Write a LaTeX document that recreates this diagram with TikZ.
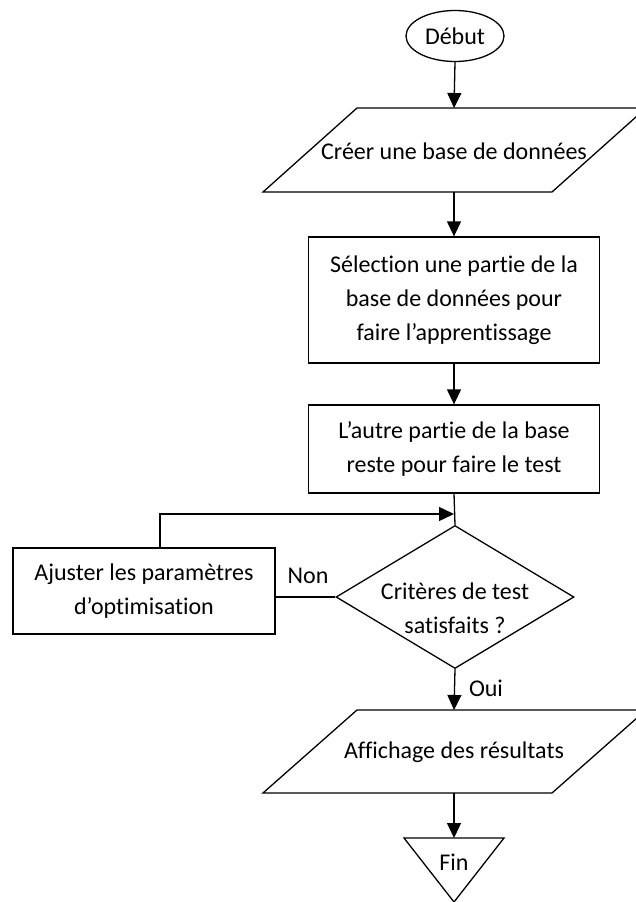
\documentclass[tikz,border=0pt]{standalone}
\usepackage{fontspec}
\setmainfont{Carlito}[Ligatures={NoCommon}]
\usetikzlibrary{shapes.geometric,arrows.meta}
\begin{document}
\begin{tikzpicture}[x=1pt,y=-1pt,
  line width=1.3pt,
  every node/.style={font=\fontsize{24}{34}\selectfont, align=center},
  arr/.style={-{Triangle[length=15pt,width=14pt]}},
  box/.style={draw, rectangle, inner sep=0pt},
  io/.style={draw, line join=miter},
]
\useasboundingbox (0,0) rectangle (636,902);

% start
\node[draw, ellipse, minimum width=98pt, minimum height=51pt, inner sep=0pt] (start) at (455,36) {Début};

% parallelogram 1
\coordinate (p1t) at (454,108);
\coordinate (p1b) at (454,192);
\draw[io] (263,192) -- (357,108) -- (646,108) -- (552,192) -- cycle;
\node (p1) at (454,151) {Créer une base de données};

% rectangles
\node[box, minimum width=291pt, minimum height=126pt] (r1) at (454,300) {Sélection une partie de la\\base de données pour\\faire l’apprentissage};
\node[box, minimum width=291pt, minimum height=88pt] (r2) at (454,449) {L’autre partie de la base\\reste pour faire le test};

% decision
\node[draw, diamond, minimum width=238pt, minimum height=143pt, inner sep=0pt] (dec) at (455,597) {};
\node (dect) at (455,608) {Critères de test\\satisfaits ?};

% adjust
\node[box, minimum width=262pt, minimum height=86pt] (adj) at (144,591) {Ajuster les paramètres\\d’optimisation};

% parallelogram 2
\coordinate (p2t) at (454,710);
\coordinate (p2b) at (454,793);
\draw[io] (263,793) -- (357,710) -- (646,710) -- (552,793) -- cycle;
\node (p2) at (454,752) {Affichage des résultats};

% end triangle
\coordinate (fint) at (454,838);
\draw[io] (404,838) -- (504,838) -- (454,902) -- cycle;
\node (fin) at (454,862) {Fin};

% labels
\node (non) at (308,576) {Non};
\node (oui) at (486,688) {Oui};

% connectors
\coordinate (lp) at (160,514);
\coordinate (mg) at (454,514);
\draw[arr] (start.south) -- (p1t);
\draw[arr] (p1b) -- (r1.north);
\draw[arr] (r1.south) -- (r2.north);
\draw (r2.south) -- (dec.north);
\draw (dec.west) -- (dec.west -| adj.east);
\draw[arr] (adj.north -| lp) -- (lp) -- (mg);
\draw[arr] (dec.south) -- (p2t);
\draw[arr] (p2b) -- (fint);
\end{tikzpicture}
\end{document}
